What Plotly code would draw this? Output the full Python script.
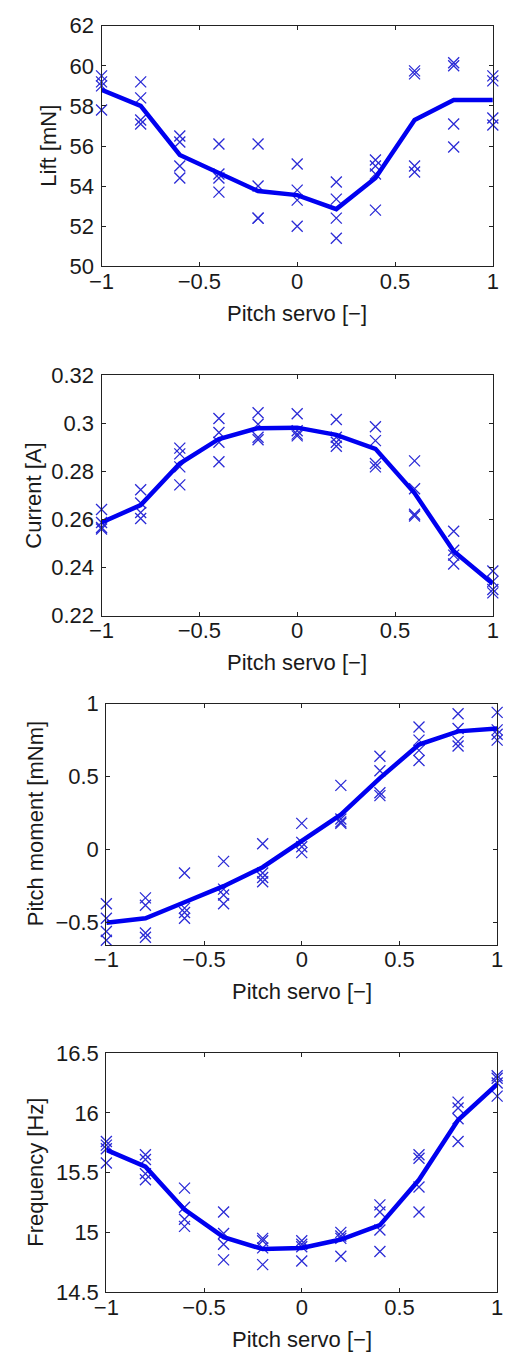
import plotly.graph_objects as go

# ---------------- data ----------------
pitch = [-1.0, -0.8, -0.6, -0.4, -0.2, 0.0, 0.2, 0.4, 0.6, 0.8, 1.0]

lift_samples = [
    [59.5, 59.2, 59.0, 57.8],
    [59.2, 58.4, 57.3, 57.1],
    [56.5, 56.2, 55.0, 54.4],
    [56.1, 54.6, 54.4, 53.7],
    [56.1, 54.0, 52.4, 52.4],
    [55.1, 53.8, 53.3, 52.0],
    [54.2, 53.35, 52.4, 51.4],
    [55.3, 55.0, 54.6, 52.8],
    [59.75, 59.6, 55.0, 54.7],
    [60.15, 60.0, 57.1, 55.95],
    [59.5, 59.25, 57.4, 57.05],
]
lift_mean = [58.8, 58.0, 55.55, 54.65, 53.75, 53.55, 52.85, 54.4, 57.3, 58.3, 58.3]

current_samples = [
    [0.2642, 0.2588, 0.2567, 0.2561],
    [0.2724, 0.2669, 0.2629, 0.2604],
    [0.2897, 0.2873, 0.2819, 0.2744],
    [0.3020, 0.2962, 0.2921, 0.2840],
    [0.3044, 0.2996, 0.2942, 0.2932],
    [0.3040, 0.2969, 0.2955, 0.2948],
    [0.3016, 0.2942, 0.2921, 0.2905],
    [0.2986, 0.2928, 0.2833, 0.2819],
    [0.2844, 0.2728, 0.2622, 0.2615],
    [0.2551, 0.2472, 0.2452, 0.2415],
    [0.2386, 0.2343, 0.2309, 0.2295],
]
current_mean = [0.2588, 0.2660, 0.2833, 0.2935, 0.2980, 0.2982, 0.2952, 0.2894, 0.2710, 0.2468, 0.2333]

moment_samples = [
    [-0.37, -0.47, -0.56, -0.62],
    [-0.33, -0.38, -0.57, -0.60],
    [-0.16, -0.40, -0.43, -0.47],
    [-0.08, -0.27, -0.31, -0.37],
    [0.04, -0.16, -0.19, -0.22],
    [0.18, 0.05, 0.02, -0.02],
    [0.44, 0.21, 0.19, 0.18],
    [0.64, 0.54, 0.39, 0.37],
    [0.84, 0.75, 0.68, 0.61],
    [0.93, 0.83, 0.74, 0.71],
    [0.94, 0.82, 0.79, 0.75],
]
moment_mean = [-0.50, -0.47, -0.36, -0.25, -0.12, 0.06, 0.24, 0.49, 0.72, 0.81, 0.83]

freq_samples = [
    [15.76, 15.73, 15.70, 15.58],
    [15.65, 15.61, 15.49, 15.44],
    [15.37, 15.21, 15.11, 15.05],
    [15.17, 14.99, 14.90, 14.77],
    [14.95, 14.93, 14.87, 14.73],
    [14.93, 14.90, 14.88, 14.76],
    [15.00, 14.97, 14.95, 14.80],
    [15.23, 15.17, 15.02, 14.84],
    [15.65, 15.62, 15.38, 15.17],
    [16.09, 16.04, 15.95, 15.76],
    [16.31, 16.29, 16.25, 16.14],
]
freq_mean = [15.69, 15.55, 15.19, 14.96, 14.86, 14.87, 14.94, 15.06, 15.44, 15.94, 16.24]

x_tickvals = [-1, -0.5, 0, 0.5, 1]
x_ticktext = ["\u22121", "\u22120.5", "0", "0.5", "1"]

lift_ticks = [50, 52, 54, 56, 58, 60, 62]
lift_ticktext = ["50", "52", "54", "56", "58", "60", "62"]
current_ticks = [0.22, 0.24, 0.26, 0.28, 0.30, 0.32]
current_ticktext = ["0.22", "0.24", "0.26", "0.28", "0.3", "0.32"]
moment_ticks = [-0.5, 0, 0.5, 1]
moment_ticktext = ["\u22120.5", "0", "0.5", "1"]
freq_ticks = [14.5, 15, 15.5, 16, 16.5]
freq_ticktext = ["14.5", "15", "15.5", "16", "16.5"]

x_title = "Pitch servo [\u2212]"
y_titles = ["Lift [mN]", "Current [A]", "Pitch moment [mNm]", "Frequency [Hz]"]

# ---------------- layout geometry (pixels) ----------------
W, H = 507, 1366
panels = [
    dict(l=92, r=498.5, t=14, b=259, yr=[50, 62], ytx=36),
    dict(l=92, r=498.5, t=370, b=615, yr=[0.22, 0.32], ytx=21),
    dict(l=97, r=503, t=704.5, b=950, yr=[-0.65, 1], ytx=23),
    dict(l=97, r=503, t=1060.5, b=1304, yr=[14.5, 16.5], ytx=23),
]
samples = [lift_samples, current_samples, moment_samples, freq_samples]
means = [lift_mean, current_mean, moment_mean, freq_mean]
yticks = [(lift_ticks, lift_ticktext), (current_ticks, current_ticktext),
          (moment_ticks, moment_ticktext), (freq_ticks, freq_ticktext)]

FONT = "Liberation Sans, Arial, Helvetica, sans-serif"
FS = 22
TXT = "#1a1a1a"
BLUE = "#0000f0"
MARK = "#2b2bd6"

fig = go.Figure()
annotations = []
for i, p in enumerate(panels):
    n = "" if i == 0 else str(i + 1)
    xa, ya = "x" + n, "y" + n
    xs, ys = [], []
    for xv, vals in zip(pitch, samples[i]):
        for v in vals:
            xs.append(xv)
            ys.append(v)
    fig.add_trace(go.Scatter(x=xs, y=ys, mode="markers", xaxis=xa, yaxis=ya,
                             marker=dict(symbol="x-thin-open", size=11, color=MARK,
                                         line=dict(color=MARK, width=1.3)),
                             cliponaxis=False, showlegend=False, hoverinfo="skip"))
    fig.add_trace(go.Scatter(x=pitch, y=means[i], mode="lines", xaxis=xa, yaxis=ya,
                             line=dict(color=BLUE, width=4.5),
                             cliponaxis=False, showlegend=False, hoverinfo="skip"))
    axcommon = dict(showline=True, linecolor="#222", linewidth=1.2, mirror="ticks",
                    ticks="inside", ticklen=4, tickcolor="#222", tickwidth=1,
                    showgrid=False, zeroline=False,
                    tickfont=dict(family=FONT, size=FS, color=TXT))
    fig.update_layout(**{
        "xaxis" + n: dict(domain=[p["l"] / W, p["r"] / W], range=[-1, 1],
                          tickvals=x_tickvals, ticktext=x_ticktext,
                          ticklabelstandoff=-5,
                          anchor=ya, **axcommon),
        "yaxis" + n: dict(domain=[1 - p["b"] / H, 1 - p["t"] / H], range=p["yr"],
                          tickvals=yticks[i][0], ticktext=yticks[i][1],
                          ticklabelstandoff=2,
                          anchor=xa, **axcommon),
    })
    annotations.append(dict(text=x_title, xref="paper", yref="paper",
                            x=(p["l"] + p["r"]) / 2 / W, y=1 - (p["b"] + 48) / H,
                            xanchor="center", yanchor="middle", showarrow=False,
                            font=dict(family=FONT, size=FS, color=TXT)))
    annotations.append(dict(text=y_titles[i], xref="paper", yref="paper",
                            x=p["ytx"] / W, y=1 - (p["t"] + p["b"]) / 2 / H,
                            xanchor="center", yanchor="middle", showarrow=False,
                            textangle=-90,
                            font=dict(family=FONT, size=FS, color=TXT)))

fig.update_layout(width=W, height=H, autosize=False,
                  margin=dict(l=0, r=0, t=0, b=0),
                  paper_bgcolor="white", plot_bgcolor="white",
                  annotations=annotations)

fig.write_html("out.html")
